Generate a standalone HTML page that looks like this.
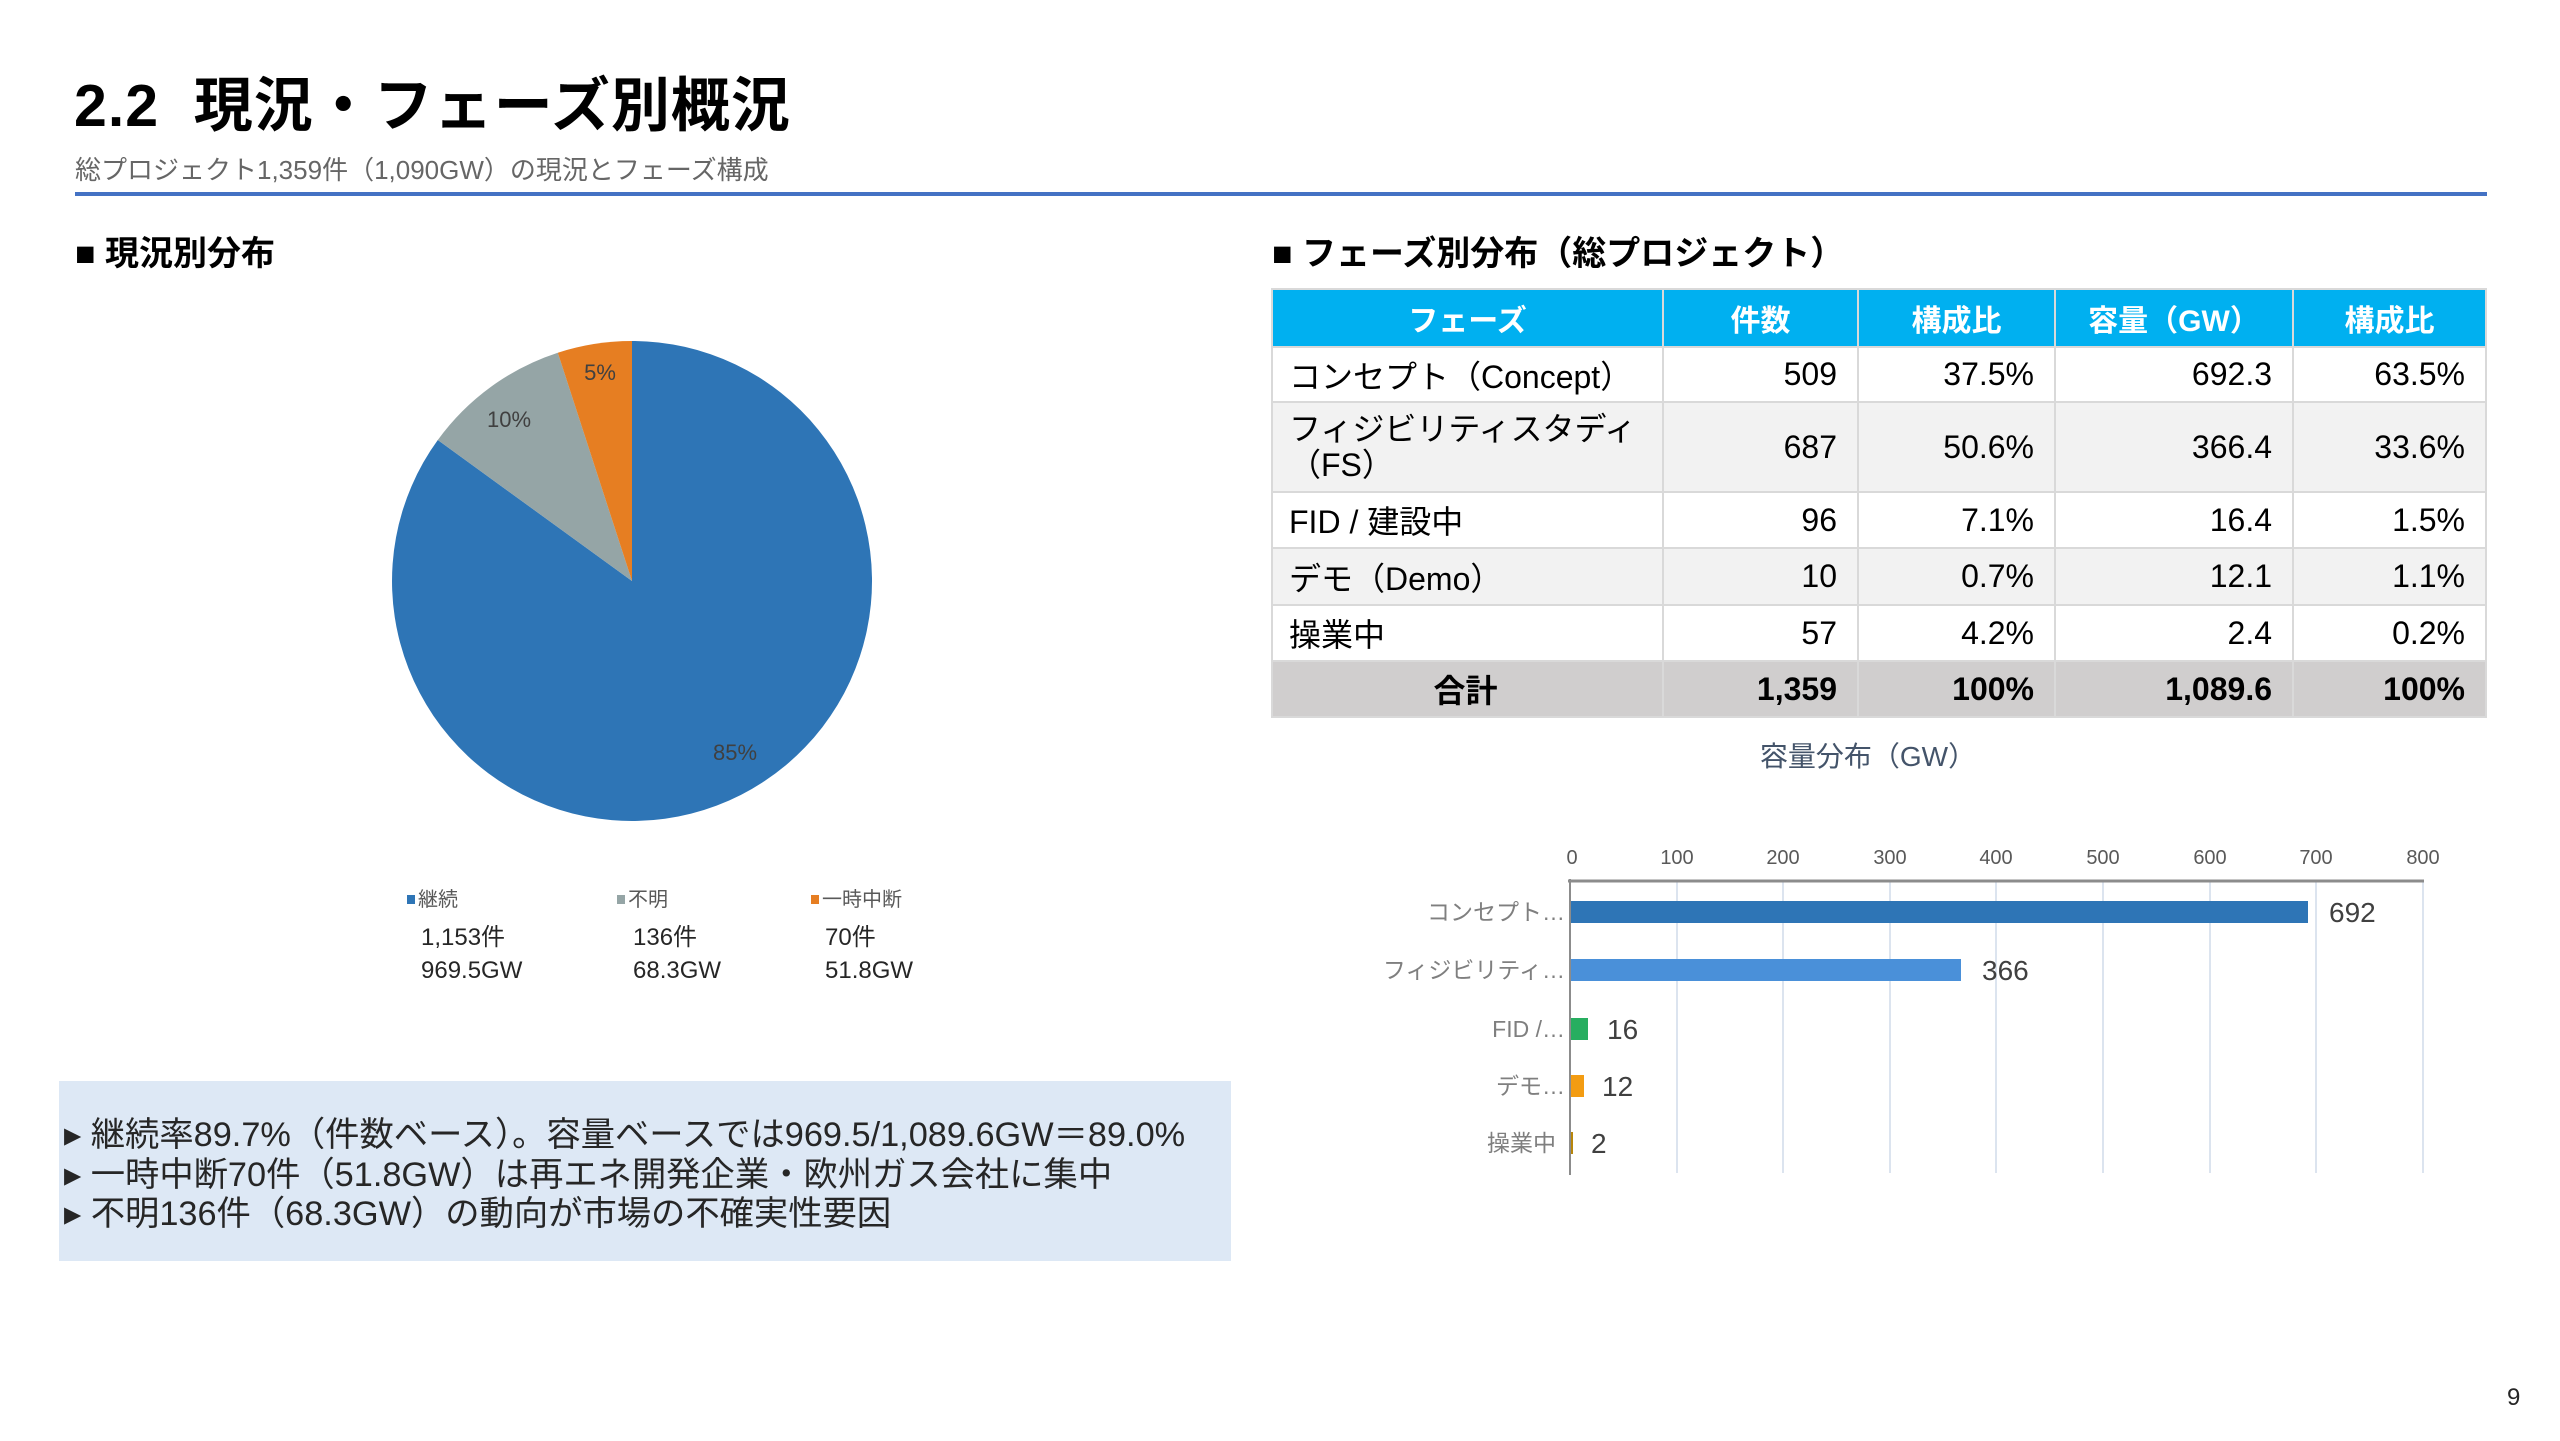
<!DOCTYPE html>
<html><head><meta charset="utf-8"><style>
body{margin:0;width:2560px;height:1441px;background:#fff;position:relative;overflow:hidden;font-family:"Liberation Sans","Noto Sans CJK JP",sans-serif;color:#000}
.a{position:absolute;white-space:nowrap}
table{position:absolute;left:1271px;top:288px;border-collapse:collapse;width:1214px;table-layout:fixed;font-size:32px}
td{border:2px solid #d9d9d9;padding:0 20px;text-align:right;white-space:nowrap;overflow:hidden}
td:first-child{text-align:left;padding-left:16px}
th{background:#00b0f0;color:#fff;font-weight:bold;border:2px solid #d9d9d9;font-size:30px;white-space:nowrap}
</style></head><body>
<div class="a" style="left:74px;top:58px;font-size:59px;font-weight:bold;letter-spacing:1px">2.2&nbsp; 現況・フェーズ別概況</div>
<div class="a" style="left:75px;top:150px;font-size:26px;color:#666">総プロジェクト1,359件（1,090GW）の現況とフェーズ構成</div>
<div class="a" style="left:75px;top:192px;width:2412px;height:4px;background:#4472c4"></div>
<div class="a" style="left:75px;top:226px;font-size:34px;font-weight:bold">■ 現況別分布</div>
<div class="a" style="left:1272px;top:226px;font-size:34px;font-weight:bold">■ フェーズ別分布（総プロジェクト）</div>

<svg class="a" style="left:0;top:0" width="1300" height="1441">
<path d="M632,581 L632,341 A240,240 0 1 1 437.8,440 Z" fill="#2e75b6"/>
<path d="M632,581 L437.8,440 A240,240 0 0 1 557.8,352.7 Z" fill="#95a5a6"/>
<path d="M632,581 L557.8,352.7 A240,240 0 0 1 632,341 Z" fill="#e67e22"/>
<g font-size="22" fill="#404040" text-anchor="middle" font-family="Liberation Sans,sans-serif">
<text x="600" y="380">5%</text><text x="509" y="427">10%</text><text x="735" y="760">85%</text></g>
<g font-size="20" fill="#595959"><rect x="407" y="895" width="8" height="9" fill="#2e75b6"/><text x="418" y="906">継続</text>
<rect x="617" y="895" width="8" height="9" fill="#95a5a6"/><text x="628" y="906">不明</text>
<rect x="811" y="895" width="8" height="9" fill="#e67e22"/><text x="822" y="906">一時中断</text></g>
<g font-size="24" fill="#262626"><text x="421" y="945">1,153件</text><text x="633" y="945">136件</text><text x="825" y="945">70件</text>
<text x="421" y="978">969.5GW</text><text x="633" y="978">68.3GW</text><text x="825" y="978">51.8GW</text></g>
</svg>

<div class="a" style="left:59px;top:1081px;width:1172px;height:180px;background:#dde8f5"></div>
<div class="a" style="left:64px;top:1116px;font-size:34.3px;line-height:39.5px;color:#262626">
<div>▸ 継続率89.7%（件数ベース）。容量ベースでは969.5/1,089.6GW＝89.0%</div>
<div>▸ 一時中断70件（51.8GW）は再エネ開発企業・欧州ガス会社に集中</div>
<div>▸ 不明136件（68.3GW）の動向が市場の不確実性要因</div></div>

<table>
<colgroup><col style="width:391px"><col style="width:195px"><col style="width:197px"><col style="width:238px"><col style="width:193px"></colgroup>
<tr style="height:58px"><th>フェーズ</th><th>件数</th><th>構成比</th><th>容量（GW）</th><th>構成比</th></tr>
<tr style="height:55px"><td>コンセプト（Concept）</td><td>509</td><td>37.5%</td><td>692.3</td><td>63.5%</td></tr>
<tr style="height:90px;background:#f2f2f2"><td style="line-height:36px;white-space:normal">フィジビリティスタディ<br>（FS）</td><td>687</td><td>50.6%</td><td>366.4</td><td>33.6%</td></tr>
<tr style="height:56px"><td>FID / 建設中</td><td>96</td><td>7.1%</td><td>16.4</td><td>1.5%</td></tr>
<tr style="height:57px;background:#f2f2f2"><td>デモ（Demo）</td><td>10</td><td>0.7%</td><td>12.1</td><td>1.1%</td></tr>
<tr style="height:56px"><td>操業中</td><td>57</td><td>4.2%</td><td>2.4</td><td>0.2%</td></tr>
<tr style="height:56px;background:#d0cece;font-weight:bold"><td style="text-align:center">合計</td><td>1,359</td><td>100%</td><td>1,089.6</td><td>100%</td></tr>
</table>

<svg class="a" style="left:0;top:0" width="2560" height="1441">
<text x="1868" y="766" font-size="28" fill="#44546a" text-anchor="middle">容量分布（GW）</text>
<g stroke="#dce4ef" stroke-width="2">
<line x1="1677" y1="881" x2="1677" y2="1173"/><line x1="1783" y1="881" x2="1783" y2="1173"/><line x1="1890" y1="881" x2="1890" y2="1173"/><line x1="1996" y1="881" x2="1996" y2="1173"/><line x1="2103" y1="881" x2="2103" y2="1173"/><line x1="2210" y1="881" x2="2210" y2="1173"/><line x1="2316" y1="881" x2="2316" y2="1173"/><line x1="2423" y1="881" x2="2423" y2="1173"/></g>
<line x1="1568" y1="881" x2="2424" y2="881" stroke="#8c8c8c" stroke-width="3"/>
<line x1="1570" y1="879" x2="1570" y2="1175" stroke="#8c8c8c" stroke-width="2"/>
<g font-size="20" fill="#595959" text-anchor="middle">
<text x="1572" y="864">0</text><text x="1677" y="864">100</text><text x="1783" y="864">200</text><text x="1890" y="864">300</text><text x="1996" y="864">400</text><text x="2103" y="864">500</text><text x="2210" y="864">600</text><text x="2316" y="864">700</text><text x="2423" y="864">800</text></g>
<rect x="1571" y="901" width="737" height="22" fill="#2e75b6"/>
<rect x="1571" y="959" width="390" height="22" fill="#4a90d9"/>
<rect x="1571" y="1018" width="17" height="22" fill="#27ae60"/>
<rect x="1571" y="1075" width="13" height="22" fill="#f39c12"/>
<rect x="1571" y="1132" width="2" height="22" fill="#b8860b"/>
<g font-size="28" fill="#404040">
<text x="2329" y="922">692</text><text x="1982" y="980">366</text><text x="1607" y="1039">16</text><text x="1602" y="1096">12</text><text x="1591" y="1153">2</text></g>
<g font-size="23" fill="#7f7f7f" text-anchor="end">
<text x="1565" y="920">コンセプト…</text><text x="1565" y="978">フィジビリティ…</text><text x="1565" y="1037">FID /…</text><text x="1565" y="1094">デモ…</text><text x="1556" y="1151">操業中</text></g>
<text x="2507" y="1405" font-size="24" fill="#262626">9</text>
</svg>
</body></html>
